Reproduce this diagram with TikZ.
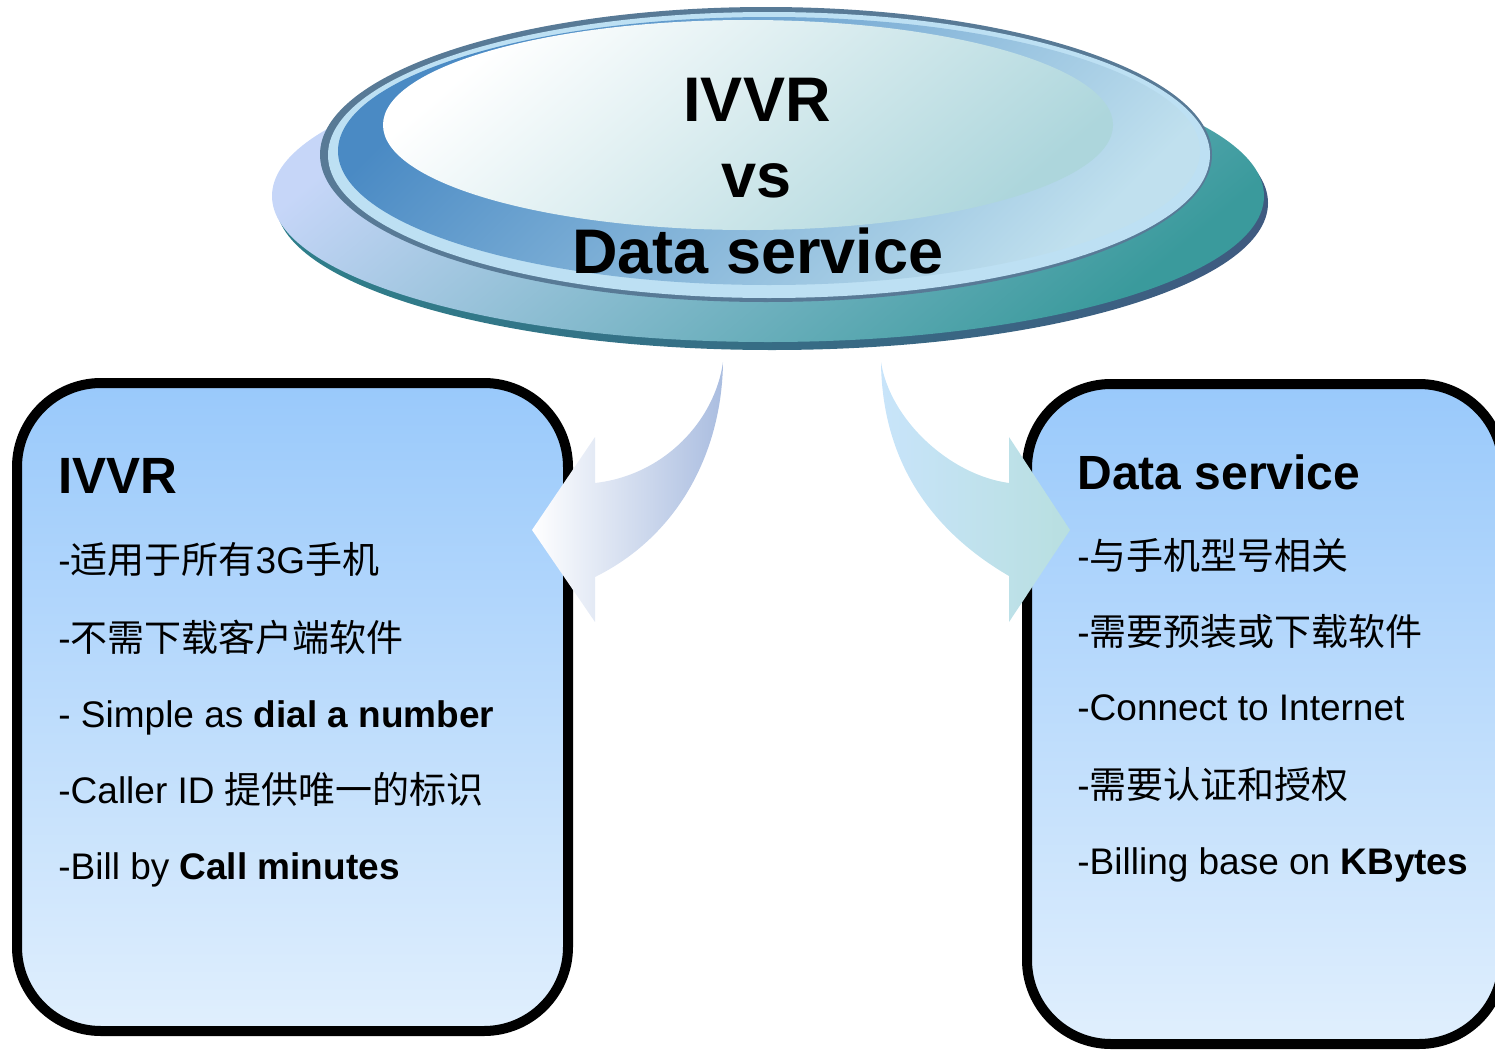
\documentclass[tikz,border=0pt]{standalone}
\usepackage{fontspec}
\setmainfont{Liberation Sans}
\newfontfamily\cjk{Noto Sans CJK SC}
\newcommand\zhtxt[1]{{\cjk\fontsize{18.5}{22}\selectfont #1}}
\definecolor{boxtop}{HTML}{99C9FB}
\definecolor{boxbot}{HTML}{E0EFFD}
\definecolor{shadowL}{HTML}{2E7F8A}
\definecolor{shadowR}{HTML}{3F5A80}
\definecolor{baseL}{HTML}{C6D6F8}
\definecolor{baseD}{HTML}{3A9A9C}
\definecolor{rimdark}{HTML}{587A96}
\definecolor{rimlight}{HTML}{BDE0F3}
\definecolor{bandL}{HTML}{4A8AC4}
\definecolor{bandD}{HTML}{C0E0EE}
\definecolor{faceD}{HTML}{ADD6DC}
\definecolor{larrowR}{HTML}{AABDE0}
\definecolor{rarrowL}{HTML}{C8E4FA}
\definecolor{rarrowR}{HTML}{B8DFE0}
\begin{document}
\begin{tikzpicture}[x=0.5pt,y=0.5pt,
  item/.style={anchor=base west, inner sep=0pt, font=\fontsize{18.5}{22}\selectfont},
  boxtitle/.style={anchor=base west, inner sep=0pt, font=\bfseries\fontsize{25.5}{30}\selectfont},
  disctext/.style={anchor=base, inner sep=0pt, font=\bfseries\fontsize{31.5}{36}\selectfont},
  panel/.style={draw=black, line width=5pt, rounded corners=42pt, top color=boxtop, bottom color=boxbot, inner sep=0pt},
]
\useasboundingbox (0,0) rectangle (1495,-1050);

% panels
\node[panel, minimum width=275.5pt, minimum height=324pt] (lbox) at (292.5,-707) {};
\node[panel, minimum width=238pt, minimum height=330pt] (rbox) at (1265,-714) {};

% disc
\shade[left color=shadowL, right color=shadowR] (772,-203) ellipse [x radius=496, y radius=147];
\shade[top color=baseL, bottom color=baseD, shading angle=40] (768,-196) ellipse [x radius=496, y radius=146];
\fill[rimdark] (766,-154.5) ellipse [x radius=446, y radius=147.5];
\fill[rimlight] (769,-155) ellipse [x radius=441, y radius=143];
\shade[top color=bandL, bottom color=bandD, shading angle=45] (769,-151) ellipse [x radius=431, y radius=134];
\shade[top color=white, bottom color=faceD, shading angle=40] (748,-125) ellipse [x radius=365, y radius=105];

\node[disctext] (t1) at (757,-121) {IVVR};
\node[disctext] (t2) at (757,-197) {vs};
\node[disctext] (t3) at (758,-273) {Data service};

% arrows
\shade[left color=white, right color=larrowR]
  (723,-362) .. controls (715,-420) and (665,-475) .. (595,-483)
  -- (595,-437) -- (532,-530) -- (595,-622) -- (595,-577)
  .. controls (680,-535) and (722,-450) .. (723,-362) -- cycle;
\shade[left color=rarrowL, right color=rarrowR]
  (881,-362) .. controls (890,-420) and (950,-475) .. (1009,-483)
  -- (1009,-437) -- (1070,-530) -- (1009,-622) -- (1009,-576)
  .. controls (930,-530) and (882,-460) .. (881,-362) -- cycle;

% left panel text
\node[boxtitle] (lt) at (58,-493) {IVVR};
\node[item] (l1) at (58,-573) {-\zhtxt{适用于所有}3G\zhtxt{手机}};
\node[item] (l2) at (58,-651) {-\zhtxt{不需下载客户端软件}};
\node[item] (l3) at (58,-727) {- Simple as \textbf{dial a number}};
\node[item] (l4) at (58,-803) {-Caller ID \zhtxt{提供唯一的标识}};
\node[item] (l5) at (58,-879) {-Bill by \textbf{Call minutes}};

% right panel text
\node[boxtitle, font=\bfseries\fontsize{24}{28}\selectfont] (rt) at (1077,-489) {Data service};
\node[item] (r1) at (1077,-569) {-\zhtxt{与手机型号相关}};
\node[item] (r2) at (1077,-645) {-\zhtxt{需要预装或下载软件}};
\node[item] (r3) at (1077,-720) {-Connect to Internet};
\node[item] (r4) at (1077,-798) {-\zhtxt{需要认证和授权}};
\node[item] (r5) at (1077,-874) {-Billing base on \textbf{KBytes}};
\end{tikzpicture}
\end{document}
